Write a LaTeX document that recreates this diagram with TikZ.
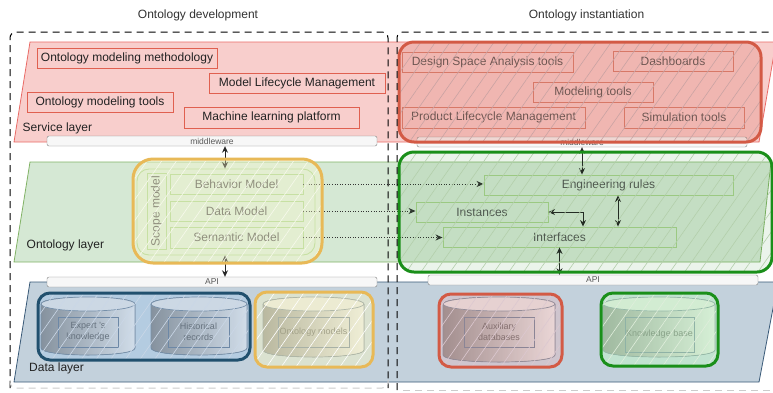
\documentclass[tikz,border=0pt]{standalone}
\usepackage{fontspec}
\setmainfont{Liberation Sans}
\usetikzlibrary{patterns.meta,arrows.meta,calc}
\definecolor{svcFill}{HTML}{F8CECC}
\definecolor{svcBorder}{HTML}{EA6B66}
\definecolor{ontFill}{HTML}{D5E8D4}
\definecolor{ontBorder}{HTML}{82B366}
\definecolor{datFill}{HTML}{C3D1DC}
\definecolor{datBorder}{HTML}{3A5A78}
\definecolor{sboxRed}{HTML}{E06050}
\definecolor{rboxRed}{HTML}{D98070}
\definecolor{txtDark}{HTML}{222222}
\definecolor{txtGray}{HTML}{555555}
\definecolor{barFill}{HTML}{F7F7F7}
\definecolor{barBorder}{HTML}{808080}
\definecolor{oboxBorder}{HTML}{A9D18E}
\definecolor{ovRed}{HTML}{D35A45}
\definecolor{ovGreen}{HTML}{1A8F1A}
\definecolor{ovYellow}{HTML}{E8B957}
\definecolor{ovBlue}{HTML}{21506E}
\definecolor{cylBorder}{HTML}{7A8A9A}
\definecolor{drectBorder}{HTML}{6F8096}
\definecolor{hatchRed}{HTML}{C9A3A3}
\definecolor{hatchGreen}{HTML}{B3CFAB}
\definecolor{hatchYellow}{HTML}{F7F9EC}
\definecolor{hatchBlue}{HTML}{CAD7E7}
\definecolor{hatchDRed}{HTML}{DCC8D0}
\definecolor{hatchDGreen}{HTML}{E0EEDC}
\newcommand{\mycyl}[4]{%
  \fill[left color=black!45, right color=black!10]
    (#1,#2+7) -- (#1,#4-7) .. controls (#1,#4+2.33) and (#3,#4+2.33) .. (#3,#4-7)
    -- (#3,#2+7) .. controls (#3,#2-2.33) and (#1,#2-2.33) .. (#1,#2+7) -- cycle;
  \draw[cylBorder, line width=0.7pt]
    (#1,#2+7) -- (#1,#4-7) .. controls (#1,#4+2.33) and (#3,#4+2.33) .. (#3,#4-7)
    -- (#3,#2+7);
  \draw[cylBorder, line width=0.7pt, fill=black!12]
    ({(#1+#3)/2},#2+7) ellipse [x radius={(#3-#1)/2*1pt}, y radius=7pt];
}
\begin{document}
\begin{tikzpicture}[x=1pt,y=-1pt,
  lbl/.style={inner sep=0, font=\fontsize{12}{14}\selectfont, text=txtDark},
  ttl/.style={inner sep=0, font=\fontsize{12}{14}\selectfont, text=black!80},
  sbox/.style={draw=sboxRed, line width=1pt, inner sep=0, minimum height=20,
    font=\fontsize{12}{14}\selectfont, text=txtDark},
  rbox/.style={draw=rboxRed, line width=0.9pt, inner sep=0, minimum height=20,
    font=\fontsize{12}{14}\selectfont, text=txtGray},
  obox/.style={draw=oboxBorder, fill=ontFill, line width=0.9pt, inner sep=0, minimum height=20,
    font=\fontsize{12}{14}\selectfont, text=txtGray},
  bar/.style={draw=barBorder, fill=barFill, rounded corners=2pt, minimum width=330,
    minimum height=10, inner sep=0, font=\fontsize{8.5}{9}\selectfont, text=black!65},
  drect/.style={draw=drectBorder, line width=0.8pt, inner sep=0, align=center,
    font=\fontsize{9}{11}\selectfont, text=black!60},
  arr/.style={{Stealth[length=6.5pt,width=6pt]}-{Stealth[length=6.5pt,width=6pt]}, line width=1pt, black!85},
  dotarr/.style={-{Stealth[length=7pt,width=6pt]}, dash pattern=on 1pt off 1.6pt, line width=1pt, black!80},
  ov/.style={line width=3pt},
  hatch/.style={pattern={Lines[angle=55,distance=12pt,line width=0.6pt]}, pattern color=#1},
  dashbox/.style={dash pattern=on 7pt off 5pt, line width=1pt}
]
\useasboundingbox (0,0) rectangle (773,392);
\fill[white] (0,0) rectangle (773,392);

% ---------- layers ----------
\draw[draw=svcBorder, fill=svcFill, line width=0.8pt] (30,42) -- (776,42) -- (759,142) -- (14,142) -- cycle;
\draw[draw=ontBorder, fill=ontFill, line width=0.8pt] (30,162) -- (771,162) -- (760,262) -- (14,262) -- cycle;
\draw[draw=datBorder, fill=datFill, line width=0.8pt] (30,282) -- (778,282) -- (759,382) -- (14,382) -- cycle;

\node[lbl, anchor=west] (svcL) at (22.5,128) {Service layer};
\node[lbl, anchor=west] (ontL) at (26.5,245.5) {Ontology layer};
\node[lbl, anchor=west] (datL) at (29,368.5) {Data layer};

% ---------- bars ----------
\node[bar] (mwL) at (212,141) {middleware};
\node[bar] (mwR) at (582,142) {middleware};
\node[bar] (apiL) at (212,282) {API};
\node[bar] (apiR) at (593,280) {API};

% ---------- service layer boxes ----------
\node[sbox, minimum width=180] (meth) at (127,58) {Ontology modeling methodology};
\node[sbox, minimum width=176] (mlm) at (297,83) {Model Lifecycle Management};
\node[sbox, minimum width=146] (omt) at (100,102) {Ontology modeling tools};
\node[sbox, minimum width=175, minimum height=21] (mlp) at (271.5,117.5) {Machine learning platform};

\node[rbox, minimum width=171] (dsa) at (487.5,62) {Design Space Analysis tools};
\node[rbox, minimum width=120] (dash) at (673,61) {Dashboards};
\node[rbox, minimum width=120] (mt) at (593,92) {Modeling tools};
\node[rbox, minimum width=183, minimum height=21] (plm) at (493.5,117.5) {Product Lifecycle Management};
\node[rbox, minimum width=120, minimum height=21] (sim) at (684,117.5) {Simulation tools};

% ---------- ontology layer boxes ----------
\node[draw=oboxBorder, fill=ontFill, line width=0.9pt, rounded corners=12pt, minimum width=178, minimum height=86, inner sep=0] (scopeArea) at (226,212) {};
\node[obox, minimum width=76, minimum height=19, rotate=90] (scope) at (156.5,211) {Scope model};
\node[obox, minimum width=133] (beh) at (236.5,184) {Behavior Model};
\node[obox, minimum width=133] (dm) at (236.5,211) {Data Model};
\node[obox, minimum width=133, minimum height=21] (sm) at (236.5,237.5) {Semantic Model};

\node[obox, minimum width=249] (er) at (608.5,185) {Engineering rules};
\node[obox, minimum width=132] (inst) at (482,212) {Instances};
\node[obox, minimum width=233] (intf) at (559.5,237) {Interfaces};

% ---------- data layer ----------
\mycyl{41}{297}{135}{355}
\mycyl{151}{297}{247}{355}
\mycyl{263}{297}{364}{357}
\mycyl{443}{297}{555}{362}
\mycyl{603}{297}{715}{357}
\node[drect, minimum width=60, minimum height=30] (ek) at (88,332) {Expert 's\\knowledge};
\node[drect, minimum width=61, minimum height=30] (hr) at (198.5,332) {Historical\\records};
\node[drect, minimum width=71, minimum height=30] (om) at (313.5,332) {Ontology models};
\node[drect, minimum width=70, minimum height=30] (aux) at (499,332) {Auxiliary\\databases};
\node[drect, minimum width=69, minimum height=35] (kb) at (659.5,334.5) {Knowledge base};

% ---------- connectors ----------
\coordinate (xA) at (225,0);
\coordinate (xB) at (618,0);
\coordinate (xC) at (583,0);
\draw[arr] (mwL.south -| xA) -- (scopeArea.north -| xA);
\draw[arr] (scopeArea.south -| xA) -- (apiL.north -| xA);
\draw[dotarr] (beh.east) -- (beh.east -| er.west);
\draw[dotarr] (dm.east) -- (dm.east -| inst.west);
\draw[dotarr] (sm.east) -- (sm.east -| intf.west);
\draw[arr] (mwR.south) -- (er.north -| mwR.south);
\draw[arr] (er.south -| xB) -- (intf.north -| xB);
\draw[arr] (inst.east) -| (intf.north -| xC);
\draw[arr] (intf.south) -- (apiR.north -| intf.south);

% ---------- overlays ----------
\draw[ov, draw=ovRed, rounded corners=15pt, preaction={fill=ovRed, fill opacity=0.2},
  hatch=hatchRed] (399,42) rectangle (761,142);
\draw[ov, draw=ovGreen, rounded corners=15pt, preaction={fill=green!45!black, fill opacity=0.08},
  hatch=hatchGreen] (399,152) rectangle (772,272);
\draw[ov, draw=ovYellow, rounded corners=20pt, preaction={fill=yellow!20, fill opacity=0.35},
  hatch=hatchYellow] (133,159) rectangle (322,263);
\draw[ov, draw=ovBlue, rounded corners=12pt, preaction={fill=blue!50!cyan!60, fill opacity=0.16},
  hatch=hatchBlue] (38,293) rectangle (250,360);
\draw[ov, draw=ovYellow, rounded corners=12pt, preaction={fill=yellow!25, fill opacity=0.4},
  hatch=white] (255,292) rectangle (373,367);
\draw[ov, draw=ovRed, rounded corners=12pt, preaction={fill=red!40, fill opacity=0.2},
  hatch=hatchDRed] (439,294) rectangle (562,367);
\draw[ov, draw=ovGreen, rounded corners=12pt, preaction={fill=green!25, fill opacity=0.4},
  hatch=hatchDGreen] (601,293) rectangle (718,366);

% ---------- dashed groups ----------
\draw[dashbox, rounded corners=6pt] (10,388) -- (10,32) -- (388,32) -- (388,388);
\draw[dashbox, black!20, rounded corners=6pt] (10,380) -- (10,388) -- (388,388) -- (388,380);
\draw[dashbox, rounded corners=6pt] (397,390) -- (397,32) -- (800,32);
\draw[dashbox, black!20] (403,390) -- (800,390);

% ---------- titles ----------
\node[ttl] (tDev) at (198,15) {Ontology development};
\node[ttl] (tInst) at (586.5,15) {Ontology instantiation};
\end{tikzpicture}
\end{document}
